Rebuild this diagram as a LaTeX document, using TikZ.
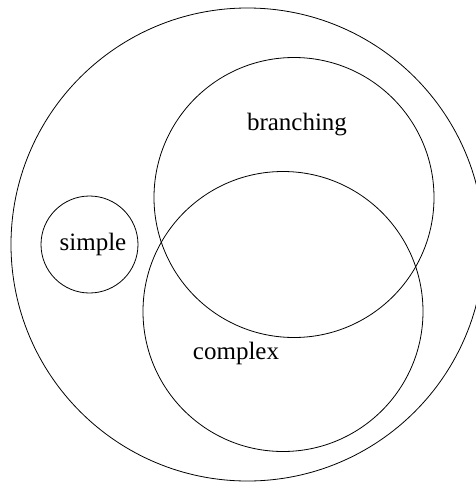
\documentclass[tikz,border=0pt]{standalone}
\usepackage{fontspec}
\setmainfont{Liberation Serif}
\begin{document}
\begin{tikzpicture}[x=1pt,y=-1pt,
    set/.style={circle,draw=black,line width=0.8pt,inner sep=0pt},
    setlabel/.style={anchor=base,font=\fontsize{25}{30}\selectfont}]
    \useasboundingbox (0,0) rectangle (476,483);

    % Place the sets
    \node[set,minimum size=473pt] (all) at (247.5,244.5) {};
    \node[set,minimum size=280pt] (branch) at (294,197.5) {};
    \node[set,minimum size=280pt] (cplx) at (283,311.5) {};
    \node[set,minimum size=97pt]  (simp) at (89.5,244.5) {};

    % Place the labels
    \node[setlabel] (branchlbl) at (297,130) {branching};
    \node[setlabel] (simplbl) at (93,250) {simple};
    \node[setlabel] (cplxlbl) at (236,359) {complex};

\end{tikzpicture}
\end{document}
